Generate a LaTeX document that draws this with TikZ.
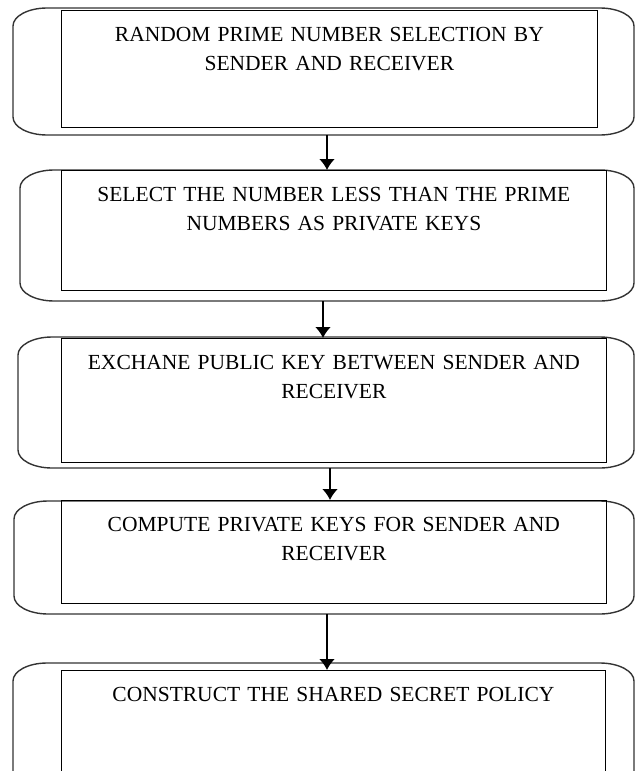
\documentclass[tikz,border=0pt]{standalone}
\usepackage{fontspec}
\setmainfont{Liberation Serif}
\usetikzlibrary{arrows.meta}

% rounded outline around each stage: straight sides with elliptical corners
\newcommand{\stageoutline}[4]{%
  \draw[outerline] (#1+34,-#2) -- (#3-34,-#2)
    arc[start angle=90, end angle=0, x radius=34, y radius=18]
    -- (#3,-#4+18)
    arc[start angle=0, end angle=-90, x radius=34, y radius=18]
    -- (#1+34,-#4)
    arc[start angle=270, end angle=180, x radius=34, y radius=18]
    -- (#1,-#2-18)
    arc[start angle=180, end angle=90, x radius=34, y radius=18];}

\begin{document}
\begin{tikzpicture}[x=1pt, y=1pt,
  outerline/.style={draw=black!80, line width=1.4pt},
  stagebox/.style={draw, line width=0.8pt, inner sep=0pt, anchor=north west,
    align=center, text height=31pt,
    font=\fontsize{21.5}{29}\selectfont},
  flowarrow/.style={line width=2pt, -{Latex[width=16pt, length=11pt]}}]

\clip (0,0) rectangle (635,-771);
\fill[white] (0,0) rectangle (635,-771);

% outlines
\stageoutline{13}{8}{634}{135}
\stageoutline{20}{170}{634}{301}
\stageoutline{18}{337}{634}{468}
\stageoutline{14}{501}{634}{614}
\stageoutline{13}{663}{634}{790}

% stages
\node[stagebox, text width=536pt, text depth=86pt] (b1) at (61,-10)
  {RANDOM PRIME NUMBER SELECTION BY\\SENDER AND RECEIVER};
\node[stagebox, text width=545pt, text depth=89pt] (b2) at (61,-170)
  {SELECT THE NUMBER LESS THAN THE PRIME\\NUMBERS AS PRIVATE KEYS};
\node[stagebox, text width=545pt, text depth=93pt] (b3) at (61,-338)
  {EXCHANE PUBLIC KEY BETWEEN SENDER AND\\RECEIVER};
\node[stagebox, text width=545pt, text depth=72pt] (b4) at (61,-500)
  {COMPUTE PRIVATE KEYS FOR SENDER AND\\RECEIVER};
\node[stagebox, text width=544pt, text depth=130pt] (b5) at (61,-670)
  {CONSTRUCT THE SHARED SECRET POLICY};

% arrow start points on the outline bottoms
\coordinate (a1) at (327,-135);
\coordinate (a2) at (323,-301);
\coordinate (a3) at (330,-468);
\coordinate (a4) at (327,-614);

\draw[flowarrow] (a1) -- (a1 |- b2.north);
\draw[flowarrow] (a2) -- (a2 |- b3.north);
\draw[flowarrow] (a3) -- (a3 |- b4.north);
\draw[flowarrow] (a4) -- (a4 |- b5.north);
\end{tikzpicture}
\end{document}
